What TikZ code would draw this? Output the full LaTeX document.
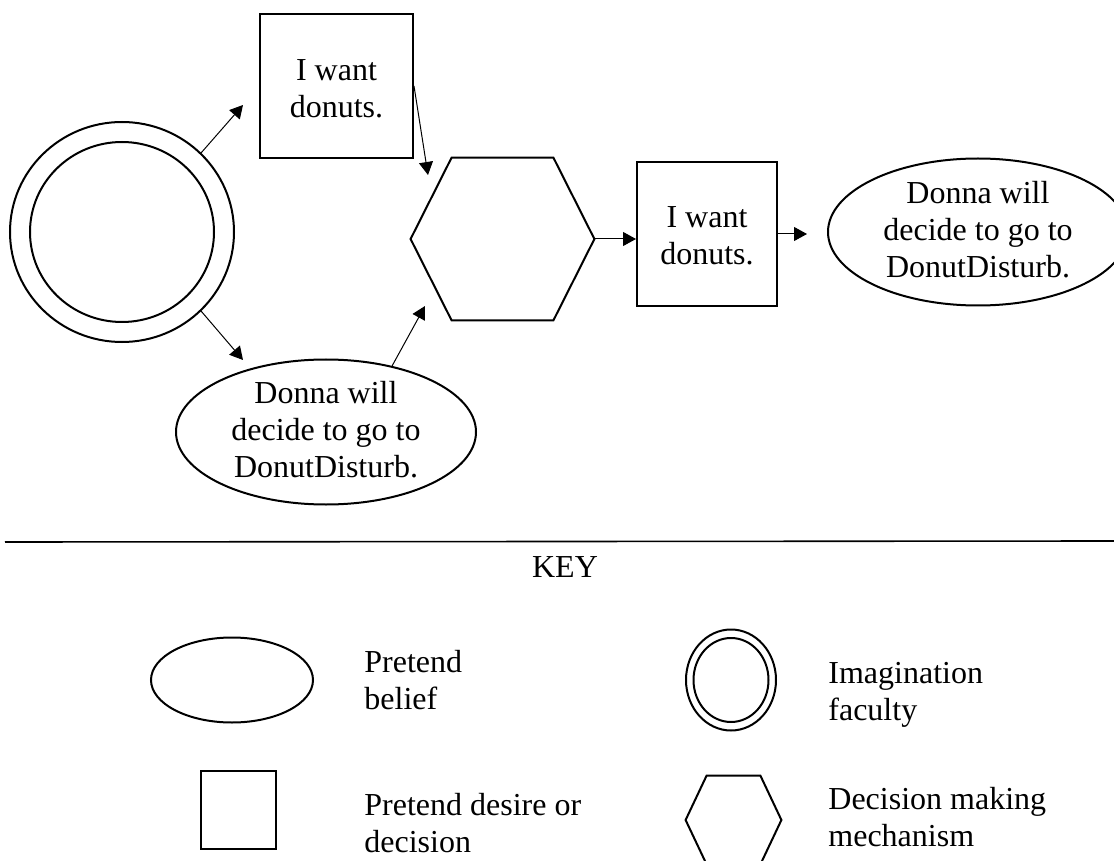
\documentclass[tikz,border=0pt]{standalone}
\usepackage{fontspec}
\setmainfont{Liberation Serif}
\usetikzlibrary{arrows.meta,calc,shapes.geometric}
\begin{document}
\begin{tikzpicture}[x=0.5pt,y=-0.5pt,
  shp/.style={draw, line width=1pt, inner sep=0pt, align=center, font=\fontsize{16}{18.5}\selectfont},
  ell/.style={shp, ellipse},
  box/.style={shp, rectangle},
  frame/.style={shape=rectangle, inner sep=0pt},
  hexline/.style={line width=1pt},
  txt/.style={inner sep=0pt, align=center, font=\fontsize{16}{18.5}\selectfont},
  arr/.style={line width=0.5pt, -{Triangle[length=6.5pt,width=7pt]}},
  lbl/.style={anchor=west, align=left, inner sep=0pt, font=\fontsize{16}{18.5}\selectfont}]
\useasboundingbox (0,0) rectangle (1114,861);

% main diagram
\node[ell, minimum width=112pt, minimum height=110pt] (imag) at (122,232) {};
\node[ell, minimum width=92pt, minimum height=90pt] (imagin) at (122,232) {};
\node[box, minimum width=76.5pt, minimum height=72pt] (want1) at (336.5,86) {};
\node[txt] (want1t) at (336.5,89) {I want\\donuts.};
\node[frame, minimum width=91.5pt, minimum height=81pt] (dm) at (502.5,239) {};
\draw[hexline] (dm.west) -- ($(dm.north west)+(41,0)$) -- ($(dm.north east)+(-41,0)$) -- (dm.east)
  -- ($(dm.south east)+(-41,0)$) -- ($(dm.south west)+(41,0)$) -- cycle;
\node[box, minimum width=70pt, minimum height=72pt] (want2) at (707,234) {};
\node[txt] (want2t) at (707,236) {I want\\donuts.};
\node[ell, minimum width=150pt, minimum height=73.5pt] (bel2) at (978,232) {};
\node[txt] (bel2t) at (978,230) {Donna will\\decide to go to\\DonutDisturb.};
\node[ell, minimum width=150pt, minimum height=72.5pt] (bel1) at (326,432) {};
\node[txt] (bel1t) at (326,430) {Donna will\\decide to go to\\DonutDisturb.};

% connectors
\coordinate (t1) at (243,105);
\coordinate (t2) at (243,360);
\coordinate (t3) at (428,175);
\coordinate (t4) at (425,306);
\draw[arr] (imag.45) -- (t1);
\draw[arr] (imag.-45) -- (t2);
\draw[arr] (want1.east) -- (t3);
\draw[arr] (bel1.45) -- (t4);
\draw[arr] (dm.east) -- (dm.east -| want2.west);
\draw[arr, shorten >=10pt] (want2.east) -- (want2.east -| bel2.west);

% separator and key
\coordinate (la) at (5,542);
\coordinate (lb) at (1114,541);
\draw[line width=0.8pt] (la) -- (lb);
\node[txt] (key) at (565,567) {KEY};

\node[ell, minimum width=81pt, minimum height=42.5pt] (kbel) at (232,680) {};
\node[lbl] (kbelt) at (364,680) {Pretend\\belief};
\node[ell, minimum width=45pt, minimum height=50.5pt] (kimag) at (731,680) {};
\node[ell, minimum width=37.5pt, minimum height=42pt] (kimagin) at (731,680) {};
\node[lbl] (kimagt) at (828,695) {Imagination\\faculty};
\node[box, minimum width=37.5pt, minimum height=39pt] (kdes) at (238.5,810) {};
\node[lbl] (kdest) at (364,823) {Pretend desire or\\decision};
\node[frame, minimum width=47.5pt, minimum height=44pt] (kdm) at (733.5,820) {};
\draw[hexline] (kdm.west) -- ($(kdm.north west)+(21,0)$) -- ($(kdm.north east)+(-21,0)$) -- (kdm.east)
  -- ($(kdm.south east)+(-21,0)$) -- ($(kdm.south west)+(21,0)$) -- cycle;
\node[lbl] (kdmt) at (828,817) {Decision making\\mechanism};
\end{tikzpicture}
\end{document}
